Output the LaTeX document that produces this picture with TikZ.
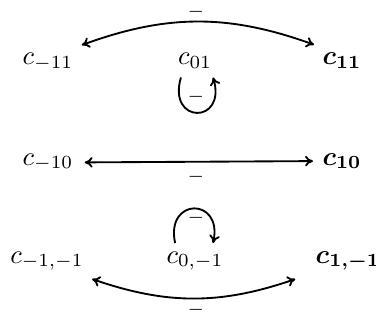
\documentclass[tikz,border=0pt]{standalone}
\usepackage{bm}
\usetikzlibrary{arrows.meta}
\begin{document}
\begin{tikzpicture}[x=0.377pt,y=0.377pt,
  ent/.style={anchor=base,inner sep=3pt},
  lab/.style={inner sep=0pt},
  arr/.style={line width=0.7pt,>={Computer Modern Rightarrow[length=3pt,width=4pt]}}]
\useasboundingbox (0,0) rectangle (376,320);
% entries
\node[ent] (cm11) at (48,255) {$c_{-11}$};
\node[ent] (c01)  at (195,255) {$c_{01}$};
\node[ent] (c11)  at (342,255) {$\bm{c_{11}}$};
\node[ent] (cm10) at (48,155) {$c_{-10}$};
\node[ent] (c10)  at (342,155) {$\bm{c_{10}}$};
\node[ent] (cm1m1) at (47,57) {$c_{-1,-1}$};
\node[ent] (c0m1)  at (195,57) {$c_{0,-1}$};
\node[ent] (c1m1)  at (348,57) {$\bm{c_{1,-1}}$};
% labels
\node[lab] (l1) at (196,303.5) {\smash{$\scriptstyle -$}};
\node[lab] (l2) at (196,218.5) {\smash{$\scriptstyle -$}};
\node[lab] (l3) at (196,138.5) {\smash{$\scriptstyle -$}};
\node[lab] (l4) at (196,97.5) {\smash{$\scriptstyle -$}};
\node[lab] (l5) at (196,5.5) {\smash{$\scriptstyle -$}};
% connectors
\draw[arr,<->] (cm11.north east) to[bend left=20] (c11.north west);
\draw[arr,<->] ([xshift=1.1pt]cm10.east) -- ([xshift=-0.4pt]c10.west);
\draw[arr,<->] (cm1m1.south east) to[bend right=19] ([xshift=-4.5pt]c1m1.south west);
\draw[arr,->] ([xshift=-5.3pt]c01.south) .. controls +(-14,-47) and +(14,-47) .. ([xshift=6.8pt]c01.south);
\draw[arr,->] ([xshift=-7.5pt]c0m1.north) .. controls +(-10,46) and +(10,46) .. ([xshift=6.8pt]c0m1.north);
\end{tikzpicture}
\end{document}
